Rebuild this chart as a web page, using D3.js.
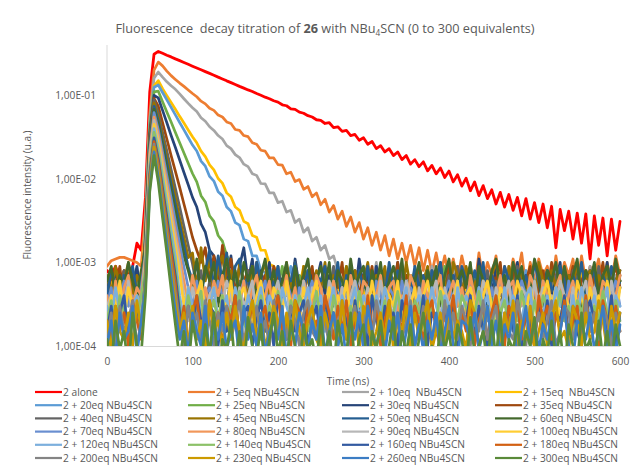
<!DOCTYPE html>
<html><head><meta charset="utf-8">
<script src="https://cdn.jsdelivr.net/npm/d3@7"></script>
<style>
body{margin:0;background:#fff}
svg{font-family:"Open Sans","Noto Sans",sans-serif}
</style>
</head><body>
<svg id="chart" width="636" height="466"></svg>
<script>
// ---------- DATA ----------
const time = [0,5,10,15,20,25,30,35,40,45,50,55,60,65,70,75,80,85,90,95,100,105,110,115,120,125,130,135,140,145,150,155,160,165,170,175,180,185,190,195,200,205,210,215,220,225,230,235,240,245,250,255,260,265,270,275,280,285,290,295,300,305,310,315,320,325,330,335,340,345,350,355,360,365,370,375,380,385,390,395,400,405,410,415,420,425,430,435,440,445,450,455,460,465,470,475,480,485,490,495,500,505,510,515,520,525,530,535,540,545,550,555,560,565,570,575,580,585,590,595,600];

const alone = [8e-4,7e-4,9e-4,6e-4,8e-4,7e-4,9e-4,1.7e-3,1.4e-3,
6e-3,0.11,0.31,
0.335,0.318,0.302,0.288,0.273,0.26,0.247,0.235,0.223,0.212,0.202,0.192,0.183,0.174,0.165,0.157,0.149,0.142,0.135,0.128,0.122,0.116,0.111,0.105,0.1,0.095,0.091,0.086,0.083,0.077,0.075,0.069,0.068,0.063,0.061,0.057,0.055,0.051,0.05,
0.046,0.047,0.041,0.042,0.037,0.038,0.033,0.034,0.029,0.031,0.026,0.028,0.023,0.025,0.021,0.023,0.019,0.021,0.017,0.019,0.015,0.017,0.014,0.016,0.0125,0.0145,0.0115,0.0135,0.0104,0.0124,0.0092,0.0112,0.0082,0.0102,0.0072,0.0092,0.0063,0.0083,0.0058,0.0074,0.005,0.0069,0.0046,0.0065,0.0042,0.006,0.0036,0.0058,0.0033,0.0052,0.003,0.005,0.0026,0.0047,0.0015,0.0043,0.0024,0.0041,0.0019,0.0039,0.0017,0.0038,0.0011,0.0036,0.0016,0.0034,0.0012,0.0033,0.0014,0.0031];

const eq5 = [9e-4,1.05e-3,1.1e-3,1.15e-3,1.15e-3,1.1e-3,1.05e-3,1e-3,9e-4,
4e-3,0.06,0.2,0.25,0.225,0.195,0.172,0.155,0.14,0.128,0.116,0.105,
0.096,0.085,0.079,0.07,0.066,0.058,0.055,0.048,0.046,0.039,
0.038,0.033,0.032,0.027,0.026,0.022,0.0215,0.0178,0.0178,0.0148,
0.0146,0.0115,0.012,0.0093,0.0098,0.0075,0.0081,0.0061,0.0068,0.0049,
0.0057,0.004,0.0048,0.0033,0.0041,0.0027,0.0035,0.0023,0.003,0.0019,
0.0026,0.0016,0.0023,0.0014,0.0021,0.0012,0.0019,0.0011,0.0017,0.001,
0.0016,9e-4,0.0015,8e-4,0.0014,7.5e-4,0.0013,7e-4,0.0012,6.5e-4,
1.1e-3,6e-4,1.2e-3,7e-4,9e-4,5e-4,1.3e-3,6e-4,1e-3,7e-4,
1.2e-3,5e-4,9e-4,6e-4,1.1e-3,7e-4,1.3e-3,5e-4,1e-3,6e-4,
1.1e-3,7e-4,9e-4,5e-4,1.2e-3,6e-4,1e-3,7e-4,1.1e-3,5e-4,
1.2e-3,6e-4,9e-4,7e-4,1.1e-3,5e-4,1e-3,6e-4,1.2e-3,7e-4];

const eq10 = [5e-4,3e-4,7e-4,4e-4,6e-4,3e-4,8e-4,5e-4,4e-4,
3e-3,0.05,0.16,0.19,0.165,0.145,0.13,0.118,0.104,0.091,0.08,0.071,
0.064,0.054,0.049,0.042,0.038,0.033,0.030,0.025,0.023,0.0195,0.018,0.015,0.014,0.0115,0.011,0.0088,0.0087,0.0068,0.0068,0.0052,0.0054,0.004,0.0042,0.003,0.0033,0.0023,0.0026,0.0018,0.002,0.0014,0.0016,0.0011,0.0012,8e-4,
6e-4,4e-4,9e-4,5e-4,7e-4,3e-4,8e-4,5e-4,1e-3,4e-4,
6e-4,7e-4,3e-4,9e-4,5e-4,6e-4,4e-4,8e-4,5e-4,7e-4,
3e-4,9e-4,6e-4,4e-4,8e-4,5e-4,1e-3,4e-4,7e-4,5e-4,
6e-4,3e-4,9e-4,5e-4,7e-4,4e-4,8e-4,6e-4,5e-4,9e-4,
4e-4,7e-4,3e-4,8e-4,6e-4,5e-4,1e-3,4e-4,6e-4,7e-4,
5e-4,9e-4,3e-4,6e-4,8e-4,4e-4,7e-4,5e-4,9e-4,4e-4,
6e-4,8e-4,5e-4,3e-4,7e-4,6e-4];

const eq15 = [4e-4,6e-4,3e-4,5e-4,7e-4,4e-4,5e-4,3e-4,6e-4,
2.5e-3,0.045,0.13,0.15,0.12,0.099,0.082,0.068,0.056,0.0466,0.0385,0.0319,
0.027,0.0215,0.0185,0.0147,0.0128,0.0101,0.0089,0.0068,0.0061,0.0046,0.0042,0.0031,0.0029,0.0021,0.002,0.0014,0.0014,9.5e-4,9e-4,
7e-4,4e-4,8e-4,3e-4,6e-4,5e-4,9e-4,3e-4,5e-4,7e-4,
4e-4,6e-4,2.5e-4,8e-4,5e-4,4e-4,7e-4,3e-4,6e-4,9e-4,
4e-4,5e-4,3e-4,7e-4,6e-4,4e-4,8e-4,3e-4,5e-4,6e-4,
2.5e-4,7e-4,4e-4,9e-4,5e-4,3e-4,6e-4,4e-4,8e-4,5e-4,
3e-4,6e-4,7e-4,4e-4,5e-4,9e-4,3e-4,6e-4,4e-4,7e-4,
5e-4,3e-4,8e-4,4e-4,6e-4,2.5e-4,7e-4,5e-4,4e-4,9e-4,
3e-4,5e-4,6e-4,4e-4,8e-4,3e-4,5e-4,7e-4,4e-4,6e-4,
3e-4,8e-4,5e-4,4e-4,6e-4,9e-4,3e-4,5e-4,7e-4,4e-4,
6e-4];

const eq20 = [3e-4,5e-4,4e-4,7e-4,3e-4,6e-4,4e-4,5e-4,3e-4,
2.5e-3,0.045,0.125,0.133,0.108,0.088,0.0716,0.0582,0.0473,0.0385,0.0313,0.0254,
0.0215,0.0163,0.0142,0.0107,0.0094,0.007,0.0063,0.0046,0.0041,0.003,0.0028,0.0019,0.0018,0.0012,0.0012,8e-4,7.5e-4,
5e-4,3e-4,7e-4,4e-4,6e-4,9e-4,3e-4,5e-4,4e-4,8e-4,
6e-4,3e-4,5e-4,7e-4,2.5e-4,6e-4,4e-4,5e-4,8e-4,3e-4,
6e-4,4e-4,7e-4,5e-4,3e-4,9e-4,4e-4,6e-4,5e-4,3e-4,
7e-4,4e-4,6e-4,2.5e-4,8e-4,5e-4,4e-4,6e-4,3e-4,7e-4,
5e-4,4e-4,9e-4,3e-4,6e-4,5e-4,7e-4,4e-4,3e-4,6e-4,
8e-4,5e-4,3e-4,6e-4,4e-4,7e-4,2.5e-4,5e-4,6e-4,4e-4,
8e-4,3e-4,5e-4,7e-4,4e-4,6e-4,3e-4,9e-4,5e-4,4e-4,
6e-4,3e-4,7e-4,5e-4,4e-4,8e-4,3e-4,6e-4,5e-4,4e-4,
7e-4,3e-4,5e-4];

const eq25 = [5e-4,4e-4,6e-4,3e-4,8e-4,4e-4,5e-4,6e-4,3e-4,
2e-3,0.04,0.11,0.112,0.084,0.063,0.048,0.036,0.027,0.0204,0.0154,0.0116,
0.0092,0.0063,0.0053,0.0036,0.0031,0.0021,0.0018,0.0012,0.001,7e-4,
4e-4,6e-4,3e-4,8e-4,5e-4,4e-4,7e-4,3e-4,6e-4,5e-4,
9e-4,4e-4,5e-4,3e-4,7e-4,6e-4,4e-4,8e-4,2.5e-4,5e-4,
6e-4,4e-4,7e-4,3e-4,5e-4,9e-4,4e-4,6e-4,3e-4,7e-4,
5e-4,4e-4,6e-4,8e-4,3e-4,5e-4,4e-4,7e-4,6e-4,3e-4,
5e-4,8e-4,4e-4,6e-4,2.5e-4,7e-4,5e-4,4e-4,9e-4,3e-4,
6e-4,5e-4,4e-4,7e-4,3e-4,6e-4,8e-4,4e-4,5e-4,3e-4,
7e-4,4e-4,6e-4,5e-4,9e-4,3e-4,5e-4,4e-4,7e-4,6e-4,
3e-4,5e-4,8e-4,4e-4,6e-4,3e-4,7e-4,5e-4,4e-4,6e-4,
2.5e-4,8e-4,5e-4,4e-4,6e-4,3e-4,7e-4,5e-4,4e-4,6e-4];

const eq30 = [6e-4,4e-4,8e-4,5e-4,3e-4,7e-4,5e-4,9e-4,4e-4,
2e-3,0.035,0.1,0.093,0.066,0.047,0.033,0.0237,0.0168,0.0119,0.0085,0.006,
0.0046,0.0029,0.0023,0.0014,0.0012,8e-4,
1.4e-3,5e-4,1.2e-3,4e-4,9e-4,1.5e-3,6e-4,1.1e-3,4e-4,8e-4,
5e-4,1e-3,3e-4,7e-4,6e-4,9e-4,4e-4,1.1e-3,5e-4,7e-4,
3e-4,8e-4,6e-4,1e-3,4e-4,7e-4,5e-4,9e-4,3e-4,6e-4,
8e-4,4e-4,1.1e-3,5e-4,7e-4,3e-4,9e-4,6e-4,4e-4,8e-4,
5e-4,1e-3,4e-4,7e-4,6e-4,3e-4,9e-4,5e-4,8e-4,4e-4,
6e-4,1e-3,3e-4,7e-4,5e-4,9e-4,4e-4,6e-4,8e-4,3e-4,
1.1e-3,5e-4,7e-4,4e-4,9e-4,6e-4,3e-4,8e-4,5e-4,1e-3,
4e-4,7e-4,6e-4,3e-4,9e-4,5e-4,8e-4,4e-4,6e-4,1e-3,
3e-4,7e-4,5e-4,9e-4,4e-4,6e-4,8e-4,3e-4,7e-4,5e-4,
1e-3,4e-4,6e-4,8e-4];

const eq35 = [4e-4,7e-4,5e-4,9e-4,3e-4,6e-4,8e-4,4e-4,6e-4,
1.8e-3,0.032,0.092,0.074,0.047,0.03,0.019,0.0123,0.0079,0.005,0.0032,0.002,
0.0014,1e-3,
1.5e-3,6e-4,1.2e-3,5e-4,1.6e-3,7e-4,1.1e-3,4e-4,9e-4,6e-4,
8e-4,3e-4,1e-3,5e-4,7e-4,4e-4,9e-4,6e-4,3e-4,8e-4,
5e-4,1e-3,4e-4,7e-4,6e-4,9e-4,3e-4,5e-4,8e-4,4e-4,
7e-4,5e-4,1e-3,3e-4,6e-4,8e-4,4e-4,7e-4,5e-4,9e-4,
3e-4,6e-4,4e-4,8e-4,5e-4,1e-3,4e-4,7e-4,6e-4,3e-4,
9e-4,5e-4,7e-4,4e-4,8e-4,6e-4,3e-4,1e-3,5e-4,7e-4,
4e-4,6e-4,9e-4,3e-4,8e-4,5e-4,4e-4,7e-4,6e-4,1e-3,
3e-4,5e-4,8e-4,4e-4,7e-4,6e-4,9e-4,3e-4,5e-4,8e-4,
4e-4,1e-3,6e-4,3e-4,7e-4,5e-4,9e-4,4e-4,6e-4,8e-4,
3e-4,7e-4,5e-4,1e-3,4e-4,6e-4,9e-4,5e-4];

const eq40 = [5e-4,3e-4,6e-4,4e-4,8e-4,5e-4,3e-4,7e-4,5e-4,
1.7e-3,0.03,0.088,0.061,0.036,0.0216,0.0129,0.0077,0.0046,0.0027,0.0016,9.6e-4,
5e-4,8e-4,3e-4,6e-4,4e-4,9e-4,5e-4,3e-4,7e-4,4e-4,
6e-4,2.5e-4,8e-4,5e-4,4e-4,7e-4,3e-4,6e-4,5e-4,9e-4,
4e-4,6e-4,3e-4,7e-4,5e-4,4e-4,8e-4,3e-4,6e-4,5e-4,
7e-4,4e-4,9e-4,3e-4,5e-4,6e-4,4e-4,8e-4,2.5e-4,6e-4,
5e-4,7e-4,4e-4,3e-4,8e-4,5e-4,6e-4,4e-4,9e-4,3e-4,
6e-4,5e-4,7e-4,4e-4,3e-4,8e-4,5e-4,6e-4,4e-4,7e-4,
3e-4,9e-4,5e-4,4e-4,6e-4,3e-4,7e-4,5e-4,8e-4,4e-4,
6e-4,3e-4,5e-4,7e-4,4e-4,9e-4,5e-4,3e-4,6e-4,4e-4,
8e-4,5e-4,2.5e-4,6e-4,7e-4,4e-4,5e-4,3e-4,8e-4,6e-4,
4e-4,7e-4,5e-4,3e-4,9e-4,4e-4,6e-4,5e-4,3e-4,7e-4];

const eq45 = [7e-4,4e-4,9e-4,5e-4,6e-4,1e-3,4e-4,7e-4,5e-4,
1.6e-3,0.028,0.081,0.0546,0.0314,0.018,0.0104,0.006,0.0034,0.002,0.00114,
1.3e-3,5e-4,1.5e-3,6e-4,1.1e-3,4e-4,9e-4,1.2e-3,5e-4,8e-4,
3e-4,1e-3,6e-4,4e-4,9e-4,5e-4,7e-4,1e-3,3e-4,6e-4,
8e-4,4e-4,1e-3,5e-4,7e-4,3e-4,9e-4,6e-4,4e-4,8e-4,
5e-4,1e-3,3e-4,7e-4,6e-4,4e-4,9e-4,5e-4,8e-4,3e-4,
6e-4,1e-3,4e-4,7e-4,5e-4,9e-4,3e-4,6e-4,8e-4,4e-4,
1e-3,5e-4,7e-4,3e-4,6e-4,9e-4,4e-4,8e-4,5e-4,6e-4,
3e-4,1e-3,7e-4,4e-4,9e-4,5e-4,6e-4,3e-4,8e-4,4e-4,
7e-4,1e-3,5e-4,3e-4,9e-4,6e-4,4e-4,8e-4,5e-4,7e-4,
3e-4,1e-3,6e-4,4e-4,8e-4,5e-4,9e-4,3e-4,7e-4,5e-4,
1e-3,4e-4,6e-4,8e-4,3e-4,7e-4,5e-4,9e-4,4e-4,6e-4,
8e-4];

const eq50 = [4e-4,8e-4,5e-4,3e-4,7e-4,6e-4,9e-4,4e-4,6e-4,
1.5e-3,0.026,0.074,0.049,0.0277,0.0156,0.0087,0.0049,0.0028,0.00156,8.7e-4,
6e-4,1e-3,4e-4,8e-4,1.4e-3,5e-4,1.2e-3,6e-4,1.3e-3,4e-4,
9e-4,1.1e-3,5e-4,7e-4,3e-4,1e-3,6e-4,4e-4,8e-4,5e-4,
9e-4,3e-4,7e-4,6e-4,1e-3,4e-4,5e-4,8e-4,3e-4,7e-4,
6e-4,9e-4,4e-4,5e-4,1e-3,3e-4,7e-4,6e-4,4e-4,8e-4,
5e-4,9e-4,3e-4,6e-4,7e-4,4e-4,1e-3,5e-4,8e-4,3e-4,
6e-4,4e-4,9e-4,5e-4,7e-4,3e-4,8e-4,6e-4,1e-3,4e-4,
5e-4,7e-4,3e-4,9e-4,6e-4,4e-4,8e-4,5e-4,1e-3,3e-4,
7e-4,5e-4,4e-4,9e-4,6e-4,3e-4,8e-4,5e-4,7e-4,4e-4,
1e-3,6e-4,3e-4,8e-4,5e-4,4e-4,9e-4,6e-4,3e-4,7e-4,
5e-4,1e-3,4e-4,6e-4,8e-4,3e-4,7e-4,5e-4,9e-4,4e-4,
6e-4];

const eq60 = [6e-4,9e-4,4e-4,7e-4,5e-4,1e-3,6e-4,4e-4,8e-4,
1.4e-3,0.024,0.068,0.0446,0.0245,0.0135,0.0074,0.0041,0.0022,0.0012,
8e-4,5e-4,1.1e-3,4e-4,9e-4,6e-4,1e-3,3e-4,7e-4,1.1e-3,
5e-4,8e-4,4e-4,1e-3,6e-4,9e-4,3e-4,7e-4,1.1e-3,5e-4,
8e-4,4e-4,6e-4,1e-3,3e-4,9e-4,5e-4,7e-4,1.1e-3,4e-4,
6e-4,9e-4,5e-4,1e-3,3e-4,8e-4,6e-4,4e-4,1.1e-3,5e-4,
7e-4,9e-4,3e-4,8e-4,5e-4,1e-3,4e-4,6e-4,9e-4,5e-4,
1.1e-3,3e-4,7e-4,6e-4,1e-3,4e-4,8e-4,5e-4,9e-4,3e-4,
7e-4,1.1e-3,4e-4,6e-4,8e-4,5e-4,1e-3,3e-4,9e-4,6e-4,
4e-4,8e-4,1.1e-3,5e-4,7e-4,3e-4,1e-3,6e-4,9e-4,4e-4,
5e-4,1.1e-3,7e-4,3e-4,8e-4,6e-4,1e-3,4e-4,9e-4,5e-4,
7e-4,1.1e-3,3e-4,8e-4,6e-4,1e-3,4e-4,7e-4,9e-4,5e-4,
1.1e-3,6e-4];

const eq70 = [3e-4,5e-4,2e-4,4e-4,6e-4,3e-4,4e-4,2e-4,5e-4,
1.3e-3,0.022,0.062,0.039,0.0208,0.011,0.0059,0.0031,0.00165,8.8e-4,
5e-4,3e-4,6e-4,2e-4,4e-4,5e-4,3e-4,6e-4,4e-4,2e-4,
5e-4,3e-4,4e-4,6e-4,2.5e-4,5e-4,3e-4,4e-4,6e-4,2e-4,
4e-4,5e-4,3e-4,6e-4,4e-4,2e-4,5e-4,3e-4,4e-4,6e-4,
3e-4,5e-4,2e-4,4e-4,6e-4,3e-4,5e-4,4e-4,2.5e-4,6e-4,
4e-4,3e-4,5e-4,2e-4,6e-4,4e-4,3e-4,5e-4,4e-4,2e-4,
6e-4,3e-4,5e-4,4e-4,2.5e-4,6e-4,3e-4,4e-4,5e-4,2e-4,
4e-4,6e-4,3e-4,5e-4,2e-4,4e-4,6e-4,3e-4,5e-4,4e-4,
2e-4,5e-4,3e-4,6e-4,4e-4,2.5e-4,5e-4,3e-4,6e-4,4e-4,
3e-4,5e-4,2e-4,6e-4,4e-4,3e-4,5e-4,4e-4,2e-4,6e-4,
3e-4,4e-4,5e-4,2.5e-4,6e-4,4e-4,3e-4,5e-4,2e-4,4e-4,
6e-4,3e-4];

const eq80 = [4e-4,2e-4,6e-4,3e-4,5e-4,7e-4,3e-4,5e-4,4e-4,
1.2e-3,0.02,0.055,0.034,0.0174,0.0089,0.0046,0.0023,0.0012,
6e-4,3e-4,7e-4,4e-4,2e-4,5e-4,3e-4,6e-4,4e-4,7e-4,
2e-4,5e-4,4e-4,3e-4,6e-4,2.5e-4,5e-4,7e-4,3e-4,4e-4,
6e-4,2e-4,5e-4,4e-4,7e-4,3e-4,5e-4,2e-4,6e-4,4e-4,
3e-4,7e-4,5e-4,2.5e-4,4e-4,6e-4,3e-4,5e-4,2e-4,7e-4,
4e-4,3e-4,6e-4,5e-4,2e-4,4e-4,7e-4,3e-4,5e-4,6e-4,
2.5e-4,4e-4,3e-4,7e-4,5e-4,2e-4,6e-4,4e-4,3e-4,5e-4,
7e-4,2e-4,4e-4,6e-4,3e-4,5e-4,2.5e-4,7e-4,4e-4,3e-4,
6e-4,5e-4,2e-4,4e-4,7e-4,3e-4,5e-4,6e-4,2e-4,4e-4,
3e-4,7e-4,5e-4,2.5e-4,6e-4,4e-4,3e-4,5e-4,7e-4,2e-4,
4e-4,6e-4,3e-4,5e-4,2e-4,7e-4,4e-4,3e-4,6e-4,5e-4,
2.5e-4,4e-4,7e-4];

const eq90 = [3e-4,4e-4,2e-4,5e-4,3e-4,6e-4,2e-4,4e-4,3e-4,
1.1e-3,0.018,0.05,0.03,0.015,0.0075,0.0038,0.0019,9.5e-4,
4e-4,2e-4,5e-4,3e-4,6e-4,2.5e-4,4e-4,5e-4,2e-4,3e-4,
6e-4,4e-4,2e-4,5e-4,3e-4,4e-4,6e-4,2e-4,5e-4,3e-4,
2.5e-4,4e-4,6e-4,3e-4,5e-4,2e-4,4e-4,3e-4,6e-4,2e-4,
5e-4,4e-4,3e-4,2.5e-4,6e-4,4e-4,2e-4,5e-4,3e-4,4e-4,
6e-4,2e-4,3e-4,5e-4,4e-4,2.5e-4,6e-4,3e-4,4e-4,2e-4,
5e-4,3e-4,6e-4,4e-4,2e-4,5e-4,3e-4,2.5e-4,4e-4,6e-4,
2e-4,5e-4,3e-4,4e-4,6e-4,2e-4,4e-4,5e-4,3e-4,2.5e-4,
6e-4,4e-4,2e-4,5e-4,3e-4,4e-4,6e-4,2e-4,3e-4,5e-4,
4e-4,2.5e-4,6e-4,3e-4,5e-4,2e-4,4e-4,3e-4,6e-4,4e-4,
2e-4,5e-4,3e-4,4e-4,6e-4,2.5e-4,5e-4,3e-4,4e-4,2e-4,
6e-4,3e-4,5e-4];

const eq100 = [2e-4,4e-4,3e-4,6e-4,2e-4,5e-4,3e-4,4e-4,2e-4,
1e-3,0.016,0.045,0.0265,0.013,0.0064,0.0031,0.0015,7.5e-4,
3e-4,5e-4,2e-4,4e-4,6e-4,2.5e-4,3e-4,5e-4,2e-4,4e-4,
3e-4,6e-4,2e-4,4e-4,5e-4,3e-4,1.8e-4,4e-4,6e-4,3e-4,
2e-4,5e-4,4e-4,2.5e-4,6e-4,3e-4,4e-4,2e-4,5e-4,3e-4,
4e-4,6e-4,2e-4,3e-4,5e-4,1.8e-4,4e-4,3e-4,6e-4,2e-4,
5e-4,3e-4,4e-4,2.5e-4,6e-4,3e-4,2e-4,5e-4,4e-4,3e-4,
6e-4,2e-4,4e-4,3e-4,5e-4,1.8e-4,4e-4,6e-4,3e-4,2e-4,
5e-4,4e-4,2.5e-4,3e-4,6e-4,2e-4,4e-4,5e-4,3e-4,2e-4,
4e-4,6e-4,3e-4,1.8e-4,5e-4,4e-4,2e-4,3e-4,6e-4,4e-4,
2.5e-4,5e-4,3e-4,2e-4,4e-4,6e-4,3e-4,5e-4,2e-4,4e-4,
3e-4,1.8e-4,6e-4,4e-4,2e-4,5e-4,3e-4,4e-4,2.5e-4,6e-4,
3e-4,2e-4,5e-4];

const eq120 = [3e-4,2e-4,5e-4,2.5e-4,4e-4,1.5e-4,3e-4,4e-4,2e-4,
9e-4,0.0145,0.04,0.023,0.0109,0.0052,0.0024,0.00116,
4e-4,2e-4,5e-4,3e-4,1.5e-4,4e-4,2.5e-4,3e-4,5e-4,2e-4,
3e-4,4e-4,1.5e-4,5e-4,3e-4,2e-4,4e-4,2.5e-4,3e-4,5e-4,
2e-4,4e-4,3e-4,1.5e-4,5e-4,3e-4,2e-4,4e-4,2.5e-4,3e-4,
5e-4,2e-4,3e-4,4e-4,1.5e-4,3e-4,5e-4,2e-4,4e-4,2.5e-4,
3e-4,5e-4,2e-4,4e-4,3e-4,1.5e-4,4e-4,2.5e-4,5e-4,3e-4,
2e-4,4e-4,3e-4,5e-4,1.5e-4,3e-4,4e-4,2e-4,2.5e-4,5e-4,
3e-4,2e-4,4e-4,3e-4,1.5e-4,5e-4,2.5e-4,4e-4,3e-4,2e-4,
5e-4,3e-4,4e-4,1.5e-4,3e-4,2e-4,5e-4,2.5e-4,4e-4,3e-4,
2e-4,4e-4,5e-4,1.5e-4,3e-4,2.5e-4,4e-4,2e-4,5e-4,3e-4,
3e-4,1.5e-4,4e-4,2e-4,5e-4,3e-4,2.5e-4,4e-4,2e-4,3e-4,
5e-4,1.5e-4,4e-4,3e-4];

const eq140 = [2e-4,3.5e-4,1.5e-4,4e-4,2.5e-4,1.3e-4,3e-4,2e-4,4e-4,
8e-4,0.013,0.036,0.0203,0.0093,0.0042,0.0019,8.9e-4,
3e-4,1.5e-4,4e-4,2e-4,3e-4,4.5e-4,1.3e-4,2.5e-4,3.5e-4,2e-4,
4e-4,1.5e-4,3e-4,2.5e-4,4.5e-4,2e-4,1.3e-4,3.5e-4,2.5e-4,4e-4,
1.5e-4,3e-4,2e-4,4.5e-4,2.5e-4,1.3e-4,3.5e-4,2e-4,4e-4,3e-4,
1.5e-4,2.5e-4,4.5e-4,2e-4,3e-4,1.3e-4,4e-4,2.5e-4,3.5e-4,1.5e-4,
3e-4,2e-4,4.5e-4,2.5e-4,1.3e-4,4e-4,3e-4,2e-4,3.5e-4,1.5e-4,
2.5e-4,4.5e-4,2e-4,3e-4,1.3e-4,3.5e-4,2.5e-4,4e-4,1.5e-4,3e-4,
2e-4,4.5e-4,2.5e-4,1.3e-4,3.5e-4,2e-4,4e-4,3e-4,1.5e-4,2.5e-4,
4.5e-4,2e-4,3e-4,1.3e-4,4e-4,2.5e-4,3.5e-4,1.5e-4,3e-4,2e-4,
4.5e-4,2.5e-4,1.3e-4,3.5e-4,2e-4,4e-4,3e-4,1.5e-4,2.5e-4,4.5e-4,
2e-4,3e-4,1.3e-4,3.5e-4,2.5e-4,4e-4,1.5e-4,3e-4,2e-4,4.5e-4,
2.5e-4,1.3e-4,3.5e-4,2e-4];

const eq160 = [1.5e-4,3e-4,1e-4,2.5e-4,4e-4,1.2e-4,2e-4,3e-4,1.5e-4,
7e-4,0.0115,0.031,0.0173,0.0077,0.0035,0.0015,6.9e-4,
2.5e-4,1e-4,3e-4,1.5e-4,4e-4,2e-4,1.2e-4,3e-4,2.5e-4,1e-4,
3.5e-4,1.5e-4,2e-4,4e-4,1.2e-4,2.5e-4,3e-4,1e-4,2e-4,3.5e-4,
1.5e-4,2.5e-4,1e-4,4e-4,2e-4,1.2e-4,3e-4,1.5e-4,2.5e-4,3.5e-4,
1e-4,2e-4,3e-4,1.2e-4,4e-4,1.5e-4,2.5e-4,1e-4,3e-4,2e-4,
1.2e-4,3.5e-4,1.5e-4,2.5e-4,1e-4,4e-4,2e-4,1.2e-4,3e-4,1.5e-4,
2.5e-4,1e-4,3.5e-4,2e-4,1.2e-4,3e-4,1.5e-4,4e-4,1e-4,2.5e-4,
2e-4,1.2e-4,3e-4,1.5e-4,3.5e-4,1e-4,2.5e-4,2e-4,4e-4,1.2e-4,
3e-4,1.5e-4,1e-4,2.5e-4,3.5e-4,2e-4,1.2e-4,3e-4,1.5e-4,4e-4,
1e-4,2.5e-4,2e-4,1.2e-4,3e-4,1.5e-4,3.5e-4,1e-4,2.5e-4,2e-4,
4e-4,1.2e-4,3e-4,1.5e-4,1e-4,2.5e-4,3.5e-4,2e-4,1.2e-4,3e-4,
1.5e-4,4e-4,1e-4,2.5e-4];

const eq180 = [2e-4,1.2e-4,3e-4,1.5e-4,2.5e-4,1e-4,3.5e-4,2e-4,1.2e-4,
6.5e-4,0.0105,0.028,0.0155,0.0067,0.0029,0.0013,5.6e-4,
1.5e-4,3e-4,1e-4,2.5e-4,4e-4,1.2e-4,2e-4,3.5e-4,1.5e-4,2.5e-4,
1e-4,3e-4,2e-4,4e-4,1.2e-4,2.5e-4,1.5e-4,3.5e-4,1e-4,2e-4,
3e-4,1.2e-4,2.5e-4,4e-4,1.5e-4,2e-4,1e-4,3.5e-4,2.5e-4,1.2e-4,
3e-4,1.5e-4,2e-4,1e-4,4e-4,2.5e-4,1.2e-4,3e-4,1.5e-4,3.5e-4,
1e-4,2e-4,2.5e-4,1.2e-4,4e-4,1.5e-4,3e-4,1e-4,2e-4,3.5e-4,
1.2e-4,2.5e-4,1.5e-4,4e-4,1e-4,3e-4,2e-4,1.2e-4,2.5e-4,3.5e-4,
1.5e-4,1e-4,3e-4,2e-4,4e-4,1.2e-4,2.5e-4,1.5e-4,3.5e-4,1e-4,
2e-4,3e-4,1.2e-4,2.5e-4,4e-4,1.5e-4,1e-4,3e-4,2e-4,3.5e-4,
1.2e-4,2.5e-4,1.5e-4,1e-4,4e-4,2e-4,3e-4,1.2e-4,2.5e-4,1.5e-4,
3.5e-4,1e-4,2e-4,3e-4,1.2e-4,4e-4,1.5e-4,2.5e-4,1e-4,3.5e-4,
2e-4,1.2e-4,3e-4,1.5e-4];

const eq200 = [1.2e-4,2.5e-4,1e-4,3e-4,1.5e-4,2e-4,3.5e-4,1e-4,2e-4,
6e-4,0.0095,0.026,0.0135,0.0057,0.0024,0.001,4.3e-4,
2e-4,1e-4,3e-4,1.5e-4,2.5e-4,1.2e-4,3.5e-4,2e-4,1e-4,2.5e-4,
1.5e-4,3e-4,1.2e-4,2e-4,3.5e-4,1e-4,2.5e-4,1.5e-4,3e-4,1.2e-4,
2e-4,1e-4,3.5e-4,1.5e-4,2.5e-4,1.2e-4,3e-4,2e-4,1e-4,2.5e-4,
3.5e-4,1.5e-4,1.2e-4,3e-4,2e-4,1e-4,2.5e-4,1.5e-4,3.5e-4,1.2e-4,
2e-4,3e-4,1e-4,2.5e-4,1.5e-4,1.2e-4,3.5e-4,2e-4,1e-4,3e-4,
1.5e-4,2.5e-4,1.2e-4,2e-4,3.5e-4,1e-4,1.5e-4,3e-4,2.5e-4,1.2e-4,
2e-4,1e-4,3.5e-4,1.5e-4,2.5e-4,1.2e-4,3e-4,2e-4,1e-4,2.5e-4,
1.5e-4,3.5e-4,1.2e-4,2e-4,3e-4,1e-4,2.5e-4,1.5e-4,1.2e-4,3.5e-4,
2e-4,1e-4,3e-4,1.5e-4,2.5e-4,1.2e-4,2e-4,3.5e-4,1e-4,1.5e-4,
3e-4,2.5e-4,1.2e-4,2e-4,1e-4,3.5e-4,1.5e-4,2.5e-4,1.2e-4,3e-4,
2e-4,1e-4,2.5e-4,1.5e-4];

const eq230 = [2e-4,9e-5,3e-4,1.5e-4,1.2e-4,2.5e-4,1e-4,3.5e-4,1.5e-4,
5.5e-4,0.0088,0.024,0.0122,0.005,0.002,8.2e-4,3.4e-4,
1.5e-4,2.5e-4,1e-4,3e-4,1.2e-4,2e-4,9e-5,3.5e-4,1.5e-4,2e-4,
1e-4,2.5e-4,1.2e-4,3e-4,1.5e-4,9e-5,2e-4,3.5e-4,1.2e-4,2.5e-4,
1e-4,1.5e-4,3e-4,2e-4,9e-5,2.5e-4,1.2e-4,3.5e-4,1.5e-4,1e-4,
2e-4,3e-4,1.2e-4,9e-5,2.5e-4,1.5e-4,2e-4,1e-4,3.5e-4,1.2e-4,
1.5e-4,2.5e-4,9e-5,3e-4,2e-4,1e-4,1.5e-4,2.5e-4,1.2e-4,3.5e-4,
9e-5,2e-4,1.5e-4,3e-4,1e-4,2.5e-4,1.2e-4,2e-4,3.5e-4,9e-5,
1.5e-4,2.5e-4,1e-4,3e-4,1.2e-4,2e-4,1.5e-4,9e-5,3.5e-4,2.5e-4,
1e-4,1.5e-4,3e-4,1.2e-4,2e-4,9e-5,2.5e-4,1.5e-4,3.5e-4,1e-4,
2e-4,1.2e-4,3e-4,9e-5,1.5e-4,2.5e-4,1e-4,2e-4,3.5e-4,1.2e-4,
1.5e-4,9e-5,3e-4,2e-4,1e-4,2.5e-4,1.2e-4,1.5e-4,3.5e-4,2e-4,
9e-5,3e-4,1.5e-4,2.5e-4];

const eq260 = [1e-4,2e-4,7e-5,2.5e-4,1.2e-4,1.5e-4,3e-4,8e-5,2e-4,
5e-4,0.0078,0.021,0.0105,0.0042,0.0017,6.6e-4,2.6e-4,
1.2e-4,2e-4,8e-5,2.5e-4,1.5e-4,1e-4,3e-4,7e-5,1.8e-4,1.2e-4,
2.5e-4,9e-5,1.5e-4,2e-4,7e-5,3e-4,1.2e-4,1.8e-4,1e-4,2.5e-4,
8e-5,1.5e-4,2e-4,1.2e-4,3e-4,7e-5,1.8e-4,1e-4,2.5e-4,1.5e-4,
9e-5,2e-4,1.2e-4,3e-4,8e-5,1.5e-4,2.5e-4,1e-4,1.8e-4,7e-5,
2e-4,1.2e-4,2.5e-4,9e-5,3e-4,1.5e-4,1e-4,1.8e-4,8e-5,2e-4,
1.2e-4,2.5e-4,7e-5,1.5e-4,3e-4,1e-4,1.8e-4,9e-5,2e-4,1.2e-4,
2.5e-4,8e-5,1.5e-4,3e-4,1e-4,7e-5,2e-4,1.8e-4,1.2e-4,2.5e-4,
9e-5,1.5e-4,3e-4,1e-4,2e-4,8e-5,1.8e-4,1.2e-4,2.5e-4,7e-5,
1.5e-4,3e-4,1e-4,2e-4,9e-5,1.8e-4,1.2e-4,2.5e-4,8e-5,1.5e-4,
3e-4,1e-4,7e-5,2e-4,1.8e-4,1.2e-4,2.5e-4,9e-5,1.5e-4,3e-4,
1e-4,2e-4,8e-5,1.8e-4];

const eq300 = [1.2e-4,6e-5,2e-4,9e-5,1.5e-4,5e-5,2.5e-4,1e-4,8e-5,
4e-4,0.007,0.019,0.0091,0.0034,0.0013,4.8e-4,1.8e-4,
7e-5,1.5e-4,5e-5,2e-4,1e-4,6e-5,1.8e-4,8e-5,2.5e-4,5e-5,
1.2e-4,9e-5,2e-4,6e-5,1.5e-4,5e-5,2.2e-4,1e-4,7e-5,1.8e-4,
5e-5,1.2e-4,2.5e-4,8e-5,1.5e-4,6e-5,2e-4,1e-4,5e-5,1.8e-4,
9e-5,1.2e-4,6e-5,2.2e-4,7e-5,1.5e-4,5e-5,2e-4,1e-4,8e-5,
2.5e-4,6e-5,1.2e-4,1.8e-4,5e-5,1.5e-4,9e-5,2e-4,7e-5,1e-4,
2.2e-4,5e-5,1.5e-4,8e-5,1.8e-4,6e-5,1.2e-4,2.5e-4,7e-5,1e-4,
5e-5,2e-4,9e-5,1.5e-4,6e-5,1.8e-4,1.2e-4,5e-5,2.2e-4,8e-5,
1e-4,1.5e-4,6e-5,2e-4,7e-5,2.5e-4,5e-5,1.2e-4,9e-5,1.8e-4,
6e-5,1.5e-4,1e-4,2.2e-4,5e-5,1.2e-4,8e-5,2e-4,7e-5,1.5e-4,
5e-5,1.8e-4,1e-4,6e-5,2.5e-4,9e-5,1.2e-4,5e-5,2e-4,7e-5,
1.5e-4,6e-5,1.8e-4,1e-4];

const seriesNames = ["2 alone","2 + 5eq NBu4SCN","2 + 10eq  NBu4SCN","2 + 15eq  NBu4SCN",
"2 + 20eq NBu4SCN","2 + 25eq NBu4SCN","2 + 30eq NBu4SCN","2 + 35eq NBu4SCN",
"2 + 40eq NBu4SCN","2 + 45eq NBu4SCN","2 + 50eq NBu4SCN","2 + 60eq NBu4SCN",
"2 + 70eq NBu4SCN","2 + 80eq NBu4SCN","2 + 90eq NBu4SCN","2 + 100eq NBu4SCN",
"2 + 120eq NBu4SCN","2 + 140eq NBu4SCN","2 + 160eq NBu4SCN","2 + 180eq NBu4SCN",
"2 + 200eq NBu4SCN","2 + 230eq NBu4SCN","2 + 260eq NBu4SCN","2 + 300eq NBu4SCN"];
const seriesValues = [alone,eq5,eq10,eq15,eq20,eq25,eq30,eq35,eq40,eq45,eq50,eq60,eq70,eq80,eq90,eq100,eq120,eq140,eq160,eq180,eq200,eq230,eq260,eq300];
const seriesColors = ["#FF0000","#ED7D31","#A5A5A5","#FFC000","#5B9BD5","#70AD47","#264478","#9E480E",
"#636363","#997300","#255E91","#43682B","#698ED0","#F1975A","#B7B7B7","#FFCD33",
"#7CAFDD","#8CC168","#335AA1","#D26012","#848484","#CC9A00","#3C7DC4","#5A8A39"];

const xTicks = [0,100,200,300,400,500,600];
const yTicks = [1e-4,1e-3,1e-2,1e-1];
const yTickLabels = ["1,00E-04","1,00E-03","1,00E-02","1,00E-01"];
const yDomain = [1e-4, 0.4];
const xDomain = [0, 600];

// ---------- DRAW ----------
const svg = d3.select("#chart");
const TXT = "#595959";
const PL = 107, PR = 620, PT = 45, PB = 346;
const x = d3.scaleLinear().domain(xDomain).range([PL, PR]);
const y = d3.scaleLog().domain(yDomain).range([PB, PT]);

svg.append("defs").append("clipPath").attr("id","plotclip")
  .append("rect").attr("x",PL).attr("y",PT-10).attr("width",PR-PL+2).attr("height",PB-PT+10);

// title
const title = svg.append("text").attr("x",325).attr("y",33).attr("text-anchor","middle")
  .attr("font-size",12.7).attr("fill",TXT).style("white-space","pre");
title.append("tspan").text("Fluorescence  decay titration of ");
title.append("tspan").attr("font-weight","bold").text("26");
title.append("tspan").text(" with NBu");
title.append("tspan").attr("font-size",8.2).attr("dy",3).text("4");
title.append("tspan").attr("dy",-3).text("SCN (0 to 300 equivalents)");

// axes
const yAxis = svg.append("g").attr("transform",`translate(${PL},0)`)
  .call(d3.axisLeft(y).tickValues(yTicks).tickFormat((d,i)=>yTickLabels[i]).tickSize(0).tickPadding(11));
yAxis.select(".domain").remove();
yAxis.selectAll("text").attr("fill",TXT).attr("font-size",10.2).attr("font-family","'Open Sans',sans-serif");

const xAxis = svg.append("g").attr("transform",`translate(0,${PB})`)
  .call(d3.axisBottom(x).tickValues(xTicks).tickSize(0).tickPadding(12));
xAxis.select(".domain").remove();
xAxis.selectAll("text").attr("fill",TXT).attr("font-size",10.2).attr("font-family","'Open Sans',sans-serif");

svg.append("line").attr("x1",PL).attr("x2",PL).attr("y1",PT).attr("y2",PB)
  .attr("stroke","#d9d9d9").attr("stroke-width",1);
svg.append("line").attr("x1",PL).attr("x2",PR).attr("y1",PB+0.5).attr("y2",PB+0.5)
  .attr("stroke","#d9d9d9").attr("stroke-width",1);

// axis titles
svg.append("text").attr("x",348).attr("y",385).attr("text-anchor","middle")
  .attr("font-size",10).attr("fill",TXT).text("Time (ns)");
svg.append("text").attr("transform","translate(31,195) rotate(-90)").attr("text-anchor","middle")
  .attr("font-size",10).attr("fill",TXT).text("Fluorescence intensity (u.a.)");

// series
const line = d3.line().x(d=>x(d[0])).y(d=>y(d[1]));
const plot = svg.append("g").attr("clip-path","url(#plotclip)");
seriesValues.forEach((vals,i)=>{
  const pts = time.map((t,k)=>[t, vals[k]]).filter(d=>d[1]!=null && d[1]>0);
  plot.append("path").datum(pts).attr("d",line)
    .attr("fill","none").attr("stroke",seriesColors[i]).attr("stroke-width",i===0?2.8:2.7)
    .attr("stroke-linejoin","round").attr("stroke-linecap","round");
});

// legend
const colX = [35,188,342,495];
const legend = svg.append("g");
seriesNames.forEach((name,i)=>{
  const cx = colX[i%4], cy = 392 + Math.floor(i/4)*13.2;
  legend.append("line").attr("x1",cx).attr("x2",cx+27).attr("y1",cy).attr("y2",cy)
    .attr("stroke",seriesColors[i]).attr("stroke-width",2.2);
  legend.append("text").attr("x",cx+28).attr("y",cy+3.6).attr("font-size",10.2)
    .attr("fill",TXT).style("white-space","pre").text(name);
});
</script>
</body></html>
